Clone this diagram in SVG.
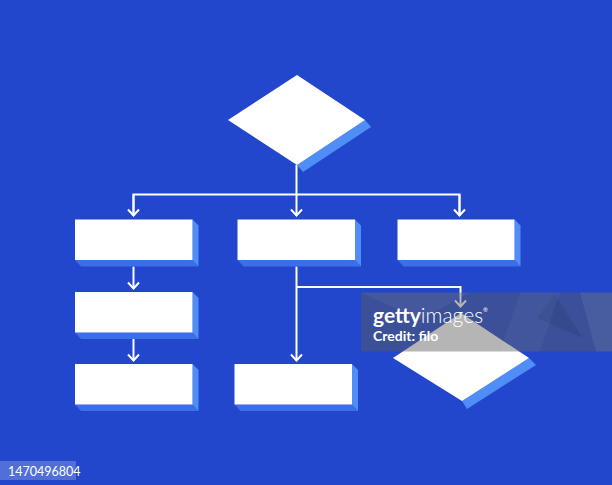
<svg xmlns="http://www.w3.org/2000/svg" width="612" height="485" viewBox="0 0 612 485">
<style>
.top{fill:#ffffff}
.bot{fill:#3b6ee8}
.side{fill:#4f8df7}
.wire{fill:none;stroke:#ffffff;stroke-width:2}
.arrow{marker-end:url(#chev)}
.wm{font-family:Lato,"Liberation Sans",sans-serif;fill:#ffffff}
</style>
<defs>
<marker id="chev" markerUnits="userSpaceOnUse" markerWidth="14" markerHeight="14" viewBox="-8 -7 10 14" refX="0" refY="0" orient="auto">
<path d="M-6,-5.5 L0,0 L-6,5.5" fill="none" stroke="#ffffff" stroke-width="2"/>
</marker>
</defs>
<rect width="612" height="485" fill="#2247cd"/>

<g id="connectors">
<line class="wire arrow" x1="296.5" y1="165" x2="296.5" y2="215.5"/>
<polyline class="wire" points="133.5,215.5 133.5,194.5 459.5,194.5 459.5,215.5"/>
<line class="wire arrow" x1="133.5" y1="194.5" x2="133.5" y2="215.5"/>
<line class="wire arrow" x1="459.5" y1="194.5" x2="459.5" y2="215.5"/>
<line class="wire arrow" x1="133.5" y1="266.5" x2="133.5" y2="288.5"/>
<line class="wire arrow" x1="133.5" y1="339" x2="133.5" y2="360.5"/>
<line class="wire arrow" x1="296.5" y1="266.5" x2="296.5" y2="360.5"/>
<polyline class="wire arrow" points="296.5,287 460.5,287 460.5,306.5"/>
</g>

<g id="decision-top">
<polygon class="side" points="365,120 371,127 303,172 297,165"/>
<polygon class="top" points="297,75 365,120 297,165 228,120"/>
</g>

<g id="box-l1">
<polygon class="bot" points="75,260 192.5,260 198.5,266.5 81,266.5"/>
<polygon class="side" points="192.5,219.5 198.5,225.5 198.5,266.5 192.5,260"/>
<rect class="top" x="75" y="219.5" width="117.5" height="40.5"/>
</g>

<g id="box-c1">
<polygon class="bot" points="237.5,260 355,260 361,266.5 243.5,266.5"/>
<polygon class="side" points="355,219.5 361,225.5 361,266.5 355,260"/>
<rect class="top" x="237.5" y="219.5" width="117.5" height="40.5"/>
</g>

<g id="box-r1">
<polygon class="bot" points="397.5,260 514.5,260 520.5,266.5 403.5,266.5"/>
<polygon class="side" points="514.5,219.5 520.5,225.5 520.5,266.5 514.5,260"/>
<rect class="top" x="397.5" y="219.5" width="117" height="40.5"/>
</g>

<g id="box-l2">
<polygon class="bot" points="75,332.5 192.5,332.5 198.5,339 81,339"/>
<polygon class="side" points="192.5,292 198.5,298 198.5,339 192.5,332.5"/>
<rect class="top" x="75" y="292" width="117.5" height="40.5"/>
</g>

<g id="box-l3">
<polygon class="bot" points="75,404.5 192.5,404.5 198.5,411 81,411"/>
<polygon class="side" points="192.5,364 198.5,370 198.5,411 192.5,404.5"/>
<rect class="top" x="75" y="364" width="117.5" height="40.5"/>
</g>

<g id="box-c3">
<polygon class="bot" points="234.5,404.5 352,404.5 358,411 240.5,411"/>
<polygon class="side" points="352,364 358,370 358,411 352,404.5"/>
<rect class="top" x="234.5" y="364" width="117.5" height="40.5"/>
</g>

<g id="decision-bottom">
<polygon class="side" points="529,358 536,365 467,409 462,401"/>
<polygon class="top" points="461,313 529,358 462,401 393,358"/>
</g>

<g id="watermark">
<rect x="361" y="292.5" width="251" height="59" fill="#5a5a5a" opacity="0.45"/>
<polygon points="555,295 583,338 537,318" fill="#1a2a60" opacity="0.18"/>
<polygon points="520,292.5 560,292.5 540,351.5 500,351.5" fill="#ffffff" opacity="0.04"/>
<polygon points="580,292.5 612,292.5 612,351.5 596,351.5" fill="#ffffff" opacity="0.07"/>
<polygon points="361,292.5 470,292.5 420,320" fill="#ffffff" opacity="0.05"/>
<text class="wm" x="373" y="323" font-size="21"><tspan font-weight="bold">getty</tspan><tspan font-weight="300">images</tspan><tspan font-size="6" dy="-11">®</tspan></text>
<text class="wm" x="373" y="341" font-size="14" font-weight="bold">Credit: filo</text>
</g>

<g id="image-id">
<rect x="0" y="461" width="76" height="19" fill="#ffffff" opacity="0.22"/>
<text class="wm" x="8" y="475.5" font-size="12.5">1470496804</text>
</g>
</svg>
